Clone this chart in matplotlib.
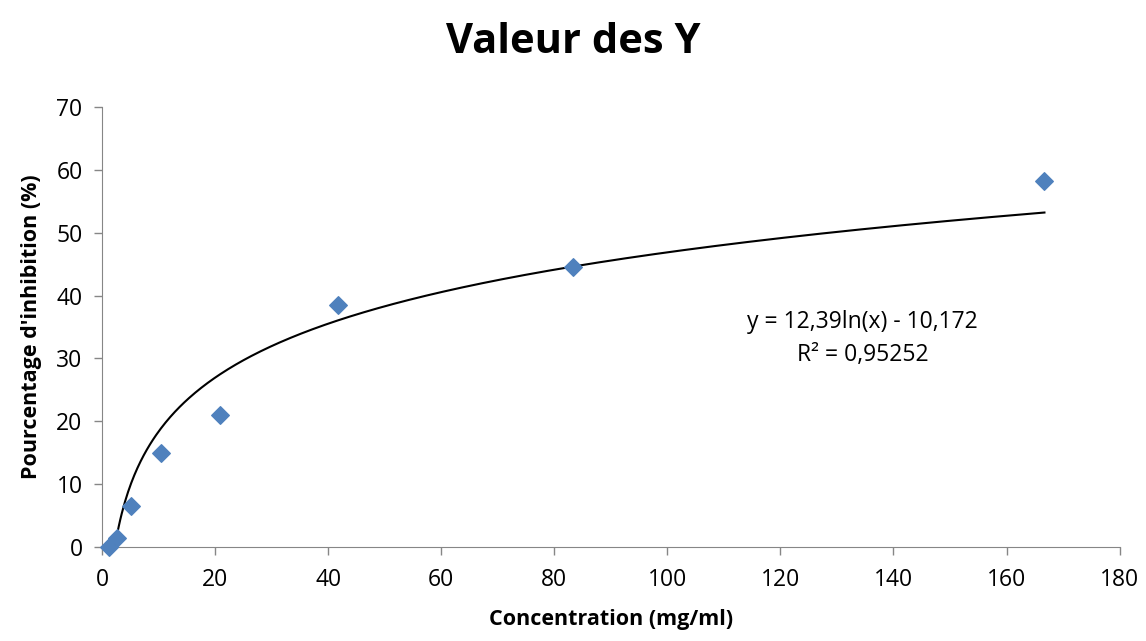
import numpy as np
import matplotlib.pyplot as plt

# concentrations (mg/ml) and inhibition (%)
conc = [1.3, 2.6, 5.2, 10.4, 20.8, 41.7, 83.3, 166.7]
inhib = [0.0, 1.4, 6.6, 15.0, 21.0, 38.5, 44.5, 58.2]

# Excel log trendline
a, b = 12.39, -10.172
x_fit = np.linspace(min(conc), max(conc), 600)
y_fit = a * np.log(x_fit) + b

plt.rcParams['font.family'] = ['Open Sans', 'DejaVu Sans']

fig = plt.figure(figsize=(11.46, 6.41), dpi=100)
ax = fig.add_axes([0.089, 0.1466, 0.888, 0.6864])

ax.plot(x_fit, y_fit, color='black', lw=1.5, zorder=2)
ax.scatter(conc, inhib, marker='D', s=80, color='#4F81BD', zorder=3, clip_on=False)

ax.set_xlim(0, 180)
ax.set_ylim(0, 70)
ax.set_xticks(range(0, 181, 20))
ax.set_yticks(range(0, 71, 10))

for side in ['top', 'right']:
    ax.spines[side].set_visible(False)
for side in ['left', 'bottom']:
    ax.spines[side].set_color('#868686')
ax.tick_params(colors='#868686', labelcolor='black', labelsize=16.5, length=6, width=1)
ax.tick_params(axis='x', pad=9)
ax.tick_params(axis='y', pad=8)

ax.set_xlabel('Concentration (mg/ml)', fontsize=15.5, fontweight='bold', labelpad=12)
ax.set_ylabel("Pourcentage d'inhibition (%)", fontsize=15.5, fontweight='bold', labelpad=10)
fig.suptitle('Valeur des Y', fontsize=30, fontweight='bold', x=0.5, y=0.965)

ax.text(134.5, 35.8, 'y = 12,39ln(x) - 10,172', fontsize=16.5, ha='center', va='center')
ax.text(134.5, 30.6, 'R² = 0,95252', fontsize=16.5, ha='center', va='center')

fig.savefig('out.png', dpi=100)
